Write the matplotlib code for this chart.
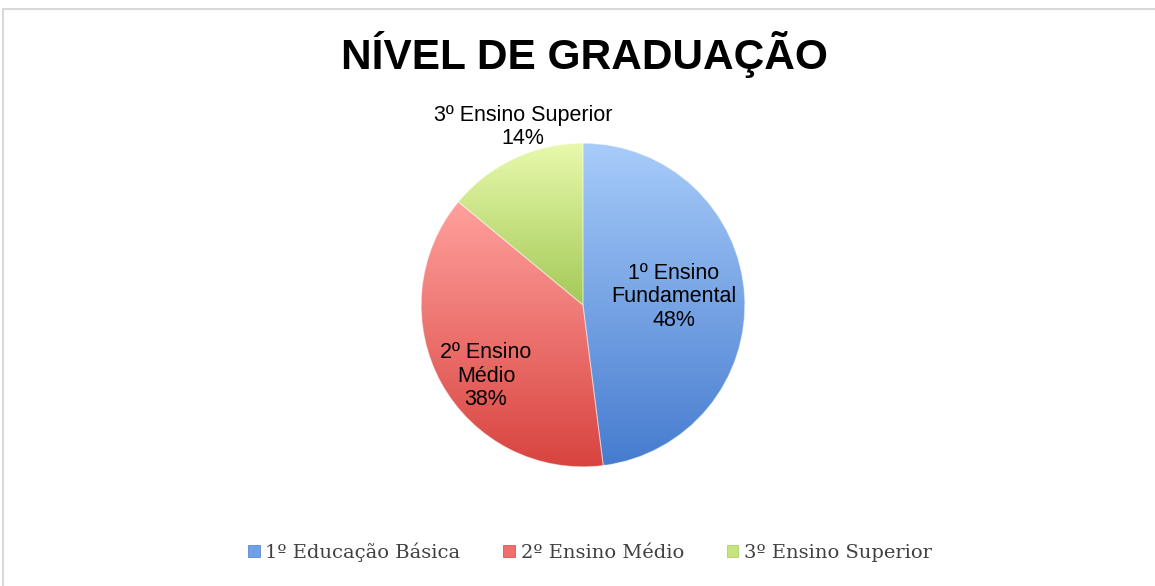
import numpy as np
import matplotlib.pyplot as plt
from matplotlib.colors import to_rgb
from matplotlib.patches import Rectangle, Patch

# chart data
labels = ['1º Ensino\nFundamental', '2º Ensino\nMédio', '3º Ensino Superior']
legend_labels = ['1º Educação Básica', '2º Ensino Médio', '3º Ensino Superior']
values = [48, 38, 14]

# gradient colours (top, bottom) per slice
top_colors = ['#A8CCFA', '#FFA09C', '#E8F9AC']
bottom_colors = ['#467CCF', '#D8433F', '#A3C957']
mid_colors = ['#6F9FE6', '#EE6F6B', '#C6E47E']

# label placement in radius units (Excel puts them by hand-ish)
label_pos = [(0.56, 0.05), (-0.60, -0.44), (-0.37, 1.10)]

W, H = 1155, 586
fig = plt.figure(figsize=(W / 100, H / 100), dpi=100)

# light frame around the chart area
fig.patches.append(Rectangle((3 / W, -0.05), 1.1, (H - 9) / H + 0.05, transform=fig.transFigure,
                             fill=False, edgecolor='#D9D9D9', linewidth=1.5))

cx, cy, r = 583, H - 305, 165
ax = fig.add_axes([(cx - r) / W, (cy - r) / H, 2 * r / W, 2 * r / H])
wedges, _ = ax.pie(values, colors=mid_colors, startangle=90, counterclock=False,
                   radius=1, wedgeprops=dict(edgecolor='none'))

for w, c0, c1 in zip(wedges, top_colors, bottom_colors):
    verts = w.get_patch_transform().transform(w.get_path().vertices)
    y0, y1 = verts[:, 1].min(), verts[:, 1].max()
    x0, x1 = verts[:, 0].min(), verts[:, 0].max()
    t = np.linspace(0, 1, 200)[:, None]
    grad = (1 - t) * np.array(to_rgb(c0)) + t * np.array(to_rgb(c1))
    img = np.repeat(grad[:, None, :], 2, axis=1)
    im = ax.imshow(img, extent=[x0, x1, y0, y1], origin='upper', aspect='auto', zorder=2)
    im.set_clip_path(w)
    # wedge itself only as a thin outline on top
    w.set_facecolor('none')
    w.set_edgecolor((1, 1, 1, 0.35))
    w.set_linewidth(0.8)
    w.set_zorder(3)

for (lx, ly), lab, v in zip(label_pos, labels, values):
    ax.text(lx, ly, f'{lab}\n{v}%', ha='center', va='center', fontsize=15.5,
            family='Liberation Sans', color='black', linespacing=1.15, zorder=4)

ax.set_xlim(-1.02, 1.02)
ax.set_ylim(-1.02, 1.02)
ax.set_aspect('equal')
ax.axis('off')

fig.text(584 / W, 1 - 55 / H, 'NÍVEL DE GRADUAÇÃO', ha='center', va='center',
         fontsize=30.5, fontweight='bold', family='Liberation Sans')

handles = [Patch(facecolor=c, edgecolor=e, linewidth=0.5) for c, e in zip(mid_colors, bottom_colors)]
fig.legend(handles, legend_labels, loc='center', bbox_to_anchor=(590 / W, 1 - 552 / H), ncol=3,
           frameon=False, prop=dict(family='DejaVu Serif', size=14), handlelength=0.6,
           handleheight=0.6, handletextpad=0.3, columnspacing=2.2, labelcolor='#404040')

fig.savefig('out.png', dpi=100)
